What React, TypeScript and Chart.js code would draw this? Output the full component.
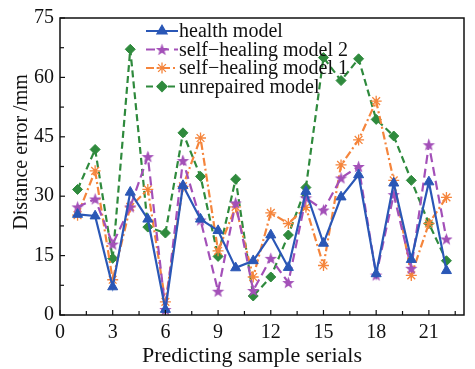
import React, { useEffect, useRef } from 'react';
import { Chart, registerables } from 'chart.js';

Chart.register(...registerables);

// ---- data ----
const samples = [1, 2, 3, 4, 5, 6, 7, 8, 9, 10, 11, 12, 13, 14, 15, 16, 17, 18, 19, 20, 21, 22];
const healthModel = [25.4, 25.0, 7.1, 31.0, 24.2, 1.4, 32.7, 24.2, 21.3, 11.9, 13.7, 20.2, 12.0, 31.2, 18.1, 29.8, 35.4, 10.4, 33.3, 14.0, 33.6, 11.2];
const selfHealing2 = [27.3, 29.3, 17.9, 27.3, 40.0, 1.4, 39.0, 24.0, 6.0, 28.3, 6.2, 14.3, 8.2, 29.6, 26.5, 34.6, 37.5, 10.1, 30.4, 11.8, 43.0, 19.2];
const selfHealing1 = [25.2, 36.4, 8.9, 27.3, 31.7, 3.3, 32.5, 44.7, 16.2, 27.3, 9.6, 25.8, 23.1, 27.2, 12.5, 37.9, 44.2, 54.0, 34.0, 10.0, 23.1, 29.7];
const unrepaired = [31.7, 41.8, 14.3, 67.1, 22.2, 20.7, 46.0, 35.0, 14.8, 34.3, 4.8, 9.6, 20.2, 32.2, 65.0, 59.2, 64.7, 49.4, 45.2, 34.0, 23.1, 13.7];
const seriesNames = ['health model', 'self\u2212healing model 2', 'self\u2212healing model 1', 'unrepaired model'];
const xTickLabels = [0, 3, 6, 9, 12, 15, 18, 21];
const yTickLabels = [0, 15, 30, 45, 60, 75];
const xTitle = 'Predicting sample serials';
const yTitle = 'Distance error /mm';

const BLUE = '#2a57b6';
const PURPLE = '#a350b8';
const ORANGE = '#f5853c';
const GREEN = '#2f8a3d';
const FONT = '"Liberation Serif", "Times New Roman", serif';

function makeStar(color: string, outer: number, inner: number) {
  const size = Math.ceil(outer * 2 + 2);
  const c = document.createElement('canvas');
  c.width = size;
  c.height = size;
  const ctx = c.getContext('2d')!;
  ctx.fillStyle = color;
  ctx.beginPath();
  for (let i = 0; i < 10; i++) {
    const r = i % 2 === 0 ? outer : inner;
    const a = -Math.PI / 2 + (i * Math.PI) / 5;
    const px = size / 2 + r * Math.cos(a);
    const py = size / 2 + 0.6 + r * Math.sin(a);
    if (i === 0) ctx.moveTo(px, py);
    else ctx.lineTo(px, py);
  }
  ctx.closePath();
  ctx.fill();
  return c;
}

function drawMarker(ctx: CanvasRenderingContext2D, style: any, x: number, y: number, r: number, color: string) {
  ctx.save();
  ctx.fillStyle = color;
  ctx.strokeStyle = color;
  ctx.lineWidth = 1.3;
  ctx.setLineDash([]);
  if (typeof style !== 'string') {
    ctx.drawImage(style, x - style.width / 2, y - style.height / 2);
  } else if (style === 'triangle') {
    ctx.beginPath();
    for (let i = 0; i < 3; i++) {
      const a = (i * 2 * Math.PI) / 3;
      const px = x + Math.sin(a) * r;
      const py = y - Math.cos(a) * r;
      if (i === 0) ctx.moveTo(px, py);
      else ctx.lineTo(px, py);
    }
    ctx.closePath();
    ctx.fill();
    ctx.stroke();
  } else if (style === 'rectRot') {
    ctx.beginPath();
    ctx.moveTo(x - r, y);
    ctx.lineTo(x, y - r);
    ctx.lineTo(x + r, y);
    ctx.lineTo(x, y + r);
    ctx.closePath();
    ctx.fill();
    ctx.stroke();
  } else if (style === 'star') {
    ctx.beginPath();
    for (let i = 0; i < 4; i++) {
      const a = (i * Math.PI) / 4;
      ctx.moveTo(x - Math.cos(a) * r, y - Math.sin(a) * r);
      ctx.lineTo(x + Math.cos(a) * r, y + Math.sin(a) * r);
    }
    ctx.stroke();
  }
  ctx.restore();
}

const framePlugin = {
  id: 'frame',
  afterDatasetsDraw(chart: any) {
    const { ctx, chartArea, scales } = chart;
    const { left, right, top, bottom } = chartArea;
    ctx.save();
    ctx.strokeStyle = '#111';
    ctx.lineWidth = 1.5;
    ctx.setLineDash([]);
    ctx.strokeRect(left, top, right - left, bottom - top);
    ctx.lineWidth = 1.2;
    const xs: number[] = [];
    xTickLabels.forEach((v, i) => {
      xs.push(v);
      const next = i + 1 < xTickLabels.length ? xTickLabels[i + 1] : v + (v - xTickLabels[i - 1]);
      xs.push((v + next) / 2);
    });
    xs.forEach((v, i) => {
      const px = scales.x.getPixelForValue(v);
      if (px > right) return;
      const len = i % 2 === 0 ? 5 : 4;
      ctx.beginPath();
      ctx.moveTo(px, bottom);
      ctx.lineTo(px, bottom - len);
      ctx.stroke();
    });
    const ys: number[] = [];
    yTickLabels.forEach((v, i) => {
      ys.push(v);
      if (i + 1 < yTickLabels.length) ys.push((v + yTickLabels[i + 1]) / 2);
    });
    ys.forEach((v, i) => {
      const py = scales.y.getPixelForValue(v);
      const len = i % 2 === 0 ? 5 : 4;
      ctx.beginPath();
      ctx.moveTo(left, py);
      ctx.lineTo(left + len, py);
      ctx.stroke();
    });
    ctx.restore();
  },
};

const titlePlugin = {
  id: 'axisTitles',
  afterDraw(chart: any) {
    const ctx = chart.ctx as CanvasRenderingContext2D;
    ctx.save();
    ctx.fillStyle = '#111';
    ctx.textAlign = 'center';
    ctx.textBaseline = 'middle';
    ctx.font = `22px ${FONT}`;
    ctx.fillText(xTitle, 252, 356);
    ctx.translate(22, 152);
    ctx.rotate(-Math.PI / 2);
    ctx.font = `20px ${FONT}`;
    ctx.fillText(yTitle, 0, 0);
    ctx.restore();
  },
};

const legendPlugin = {
  id: 'customLegend',
  afterDraw(chart: any) {
    const ctx = chart.ctx as CanvasRenderingContext2D;
    const x0 = 146;
    const x1 = 178;
    const rowTop = 31;
    const rowGap = 18.5;
    chart.data.datasets.forEach((ds: any, i: number) => {
      const y = rowTop + i * rowGap;
      ctx.save();
      ctx.strokeStyle = ds.borderColor;
      ctx.lineWidth = 2;
      ctx.setLineDash(ds.borderDash || []);
      ctx.beginPath();
      ctx.moveTo(x0, y);
      ctx.lineTo(x1, y);
      ctx.stroke();
      ctx.setLineDash([]);
      drawMarker(ctx, ds.pointStyle, (x0 + x1) / 2, y, ds.pointRadius, ds.borderColor);
      ctx.fillStyle = '#111';
      ctx.font = `20px ${FONT}`;
      ctx.textBaseline = 'middle';
      ctx.textAlign = 'left';
      ctx.fillText(ds.label, x1 + 1, y + 1);
      ctx.restore();
    });
  },
};

export default function App() {
  const canvasRef = useRef<HTMLCanvasElement | null>(null);

  useEffect(() => {
    const canvas = canvasRef.current;
    if (!canvas) return;
    const star = makeStar(PURPLE, 6.5, 2.7);
    const pts = (arr: number[]) => samples.map((x, i) => ({ x, y: arr[i] }));
    const chart = new Chart(canvas, {
      type: 'line',
      data: {
        datasets: [
          {
            label: seriesNames[0],
            data: pts(healthModel),
            borderColor: BLUE,
            backgroundColor: BLUE,
            borderWidth: 2.2,
            pointStyle: 'triangle',
            pointRadius: 5.8,
            pointBorderWidth: 1,
            tension: 0,
          },
          {
            label: seriesNames[1],
            data: pts(selfHealing2),
            borderColor: PURPLE,
            backgroundColor: PURPLE,
            borderWidth: 2.2,
            borderDash: [9, 5],
            pointStyle: star as any,
            pointRadius: 6,
            tension: 0,
          },
          {
            label: seriesNames[2],
            data: pts(selfHealing1),
            borderColor: ORANGE,
            backgroundColor: ORANGE,
            borderWidth: 2.2,
            borderDash: [8, 3, 2, 3],
            pointStyle: 'star',
            pointRadius: 5.5,
            pointBorderWidth: 1.3,
            tension: 0,
          },
          {
            label: seriesNames[3],
            data: pts(unrepaired),
            borderColor: GREEN,
            backgroundColor: GREEN,
            borderWidth: 2.2,
            borderDash: [7, 4],
            pointStyle: 'rectRot',
            pointRadius: 5,
            pointBorderWidth: 1,
            tension: 0,
          },
        ],
      },
      options: {
        responsive: false,
        animation: false,
        layout: { padding: { top: 15, right: 11, left: 0, bottom: 0 } },
        plugins: { legend: { display: false }, tooltip: { enabled: false } },
        scales: {
          x: {
            type: 'linear',
            min: 0,
            max: 23,
            grid: { display: false, drawTicks: false },
            border: { display: false },
            afterBuildTicks: (s: any) => {
              s.ticks = xTickLabels.map((v) => ({ value: v }));
            },
            afterFit: (s: any) => {
              s.height = 54;
            },
            ticks: {
              autoSkip: false,
              maxRotation: 0,
              padding: 6,
              color: '#111',
              font: { family: FONT, size: 20 },
            },
            title: { display: false },
          },
          y: {
            type: 'linear',
            min: 0,
            max: 75,
            grid: { display: false, drawTicks: false },
            border: { display: false },
            afterBuildTicks: (s: any) => {
              s.ticks = yTickLabels.map((v) => ({ value: v }));
            },
            afterFit: (s: any) => {
              s.width = 60;
            },
            ticks: {
              autoSkip: false,
              padding: 6,
              color: '#111',
              font: { family: FONT, size: 20 },
            },
            title: { display: false },
          },
        },
      },
      plugins: [framePlugin, legendPlugin, titlePlugin],
    });
    return () => chart.destroy();
  }, []);

  return (
    <div style={{ position: 'absolute', left: 0, top: 0, width: 475, height: 369, background: '#fff' }}>
      <canvas ref={canvasRef} width={475} height={369} style={{ display: 'block' }} />
    </div>
  );
}
